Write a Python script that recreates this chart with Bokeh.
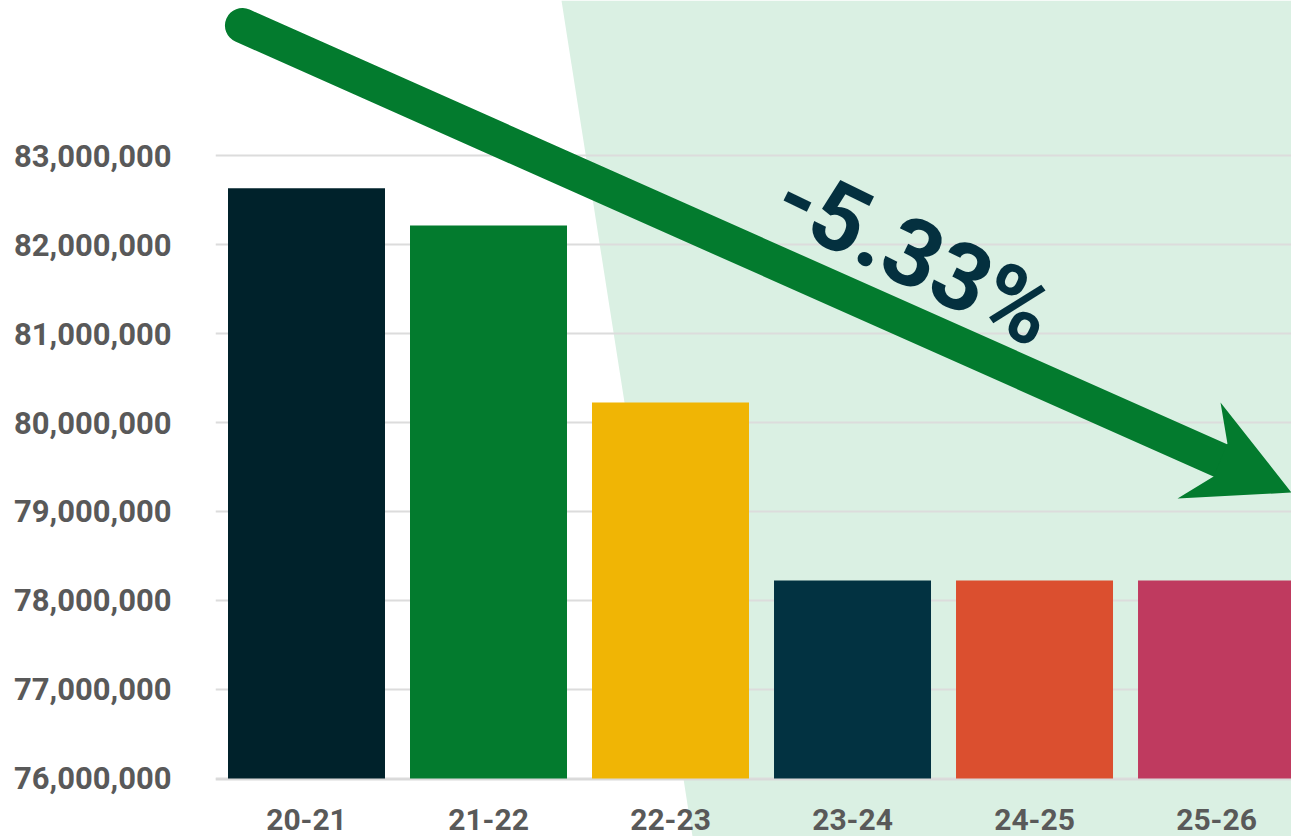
from bokeh.plotting import figure
from bokeh.models import (ColumnDataSource, Range1d, FixedTicker, NumeralTickFormatter,
                          PolyAnnotation, Label, Span)
from bokeh.core.properties import value
from bokeh.embed import file_html
from bokeh.resources import INLINE

# ---- data ----
seasons = ["20-21", "21-22", "22-23", "23-24", "24-25", "25-26"]
values = [82633000, 82213000, 80225000, 78225000, 78225000, 78225000]
colors = ["#00222B", "#037B2E", "#F0B505", "#023241", "#DB4F2F", "#BF3A5F"]
y_ticks = [76000000, 77000000, 78000000, 79000000, 80000000, 81000000, 82000000, 83000000]
change_label = "-5.33%"

FONT = "Roboto"
LABEL_GRAY = "#595959"
BASE = 76000000
Y_BOTTOM = 75348000   # frame extends below the baseline to hold the category labels
Y_TOP = 84742000
LABEL_Y = 75534000    # vertical centre of category labels

xs = [i + 0.5 for i in range(len(seasons))]
src = ColumnDataSource(dict(x=xs, top=values, color=colors, season=seasons,
                            ly=[LABEL_Y] * len(seasons)))

p = figure(width=1291, height=836, output_backend="svg", toolbar_location=None,
           x_range=Range1d(0, 5.912), y_range=Range1d(Y_BOTTOM, Y_TOP),
           min_border_left=215, min_border_right=0, min_border_top=0, min_border_bottom=0)
p.outline_line_color = None
p.background_fill_color = "white"
p.border_fill_color = "white"

# light green background wedge (decoration)
bg = PolyAnnotation(xs=[1.901, 7.0, 7.0, 2.621], ys=[84.742e6, 84.742e6, 75.348e6, 75.348e6],
                    fill_color="#DAF0E3", fill_alpha=1.0, line_color=None, level="image")
p.add_layout(bg)

# baseline
p.add_layout(Span(location=BASE - 12000, dimension="width", line_color="#D9D9D9",
                  line_width=2, level="underlay"))

p.vbar(x="x", top="top", bottom=BASE, width=0.8626, color="color", source=src,
       line_color=None)

# category labels
p.text(x="x", y="ly", text="season", source=src, text_font=value(FONT),
       text_font_style="bold", text_font_size="30px", text_color=LABEL_GRAY,
       text_align="center", text_baseline="middle")

# arrow (decoration)
p.line(x=[0.148, 5.522], y=[84.461e6, 79.573e6], line_width=35, line_color="#037B2E",
       line_cap="round")
p.patch(x=[5.522, 5.912, 5.286, 5.484, 5.560], y=[80.225e6, 79.213e6, 79.146e6, 79.393e6, 79.764e6],
        fill_color="#037B2E", line_color=None)

lab = Label(x=3.845, y=81.88e6, text=change_label, angle=-26, angle_units="deg",
            text_font=FONT, text_font_style="bold", text_font_size="94px",
            text_color="#04303F", text_align="center", text_baseline="middle")
p.add_layout(lab)

# axes
p.xaxis.visible = False
p.yaxis.ticker = FixedTicker(ticks=y_ticks)
p.yaxis.formatter = NumeralTickFormatter(format="0,0")
p.yaxis.major_tick_line_color = None
p.yaxis.minor_tick_line_color = None
p.yaxis.major_label_text_font = FONT
p.yaxis.major_label_text_font_style = "bold"
p.yaxis.major_label_text_color = LABEL_GRAY
p.yaxis.major_label_text_font_size = "31px"
p.yaxis.axis_line_color = None
p.yaxis.major_label_standoff = 38

p.xgrid.grid_line_color = None
p.ygrid.grid_line_color = "#DCDCDC"
p.ygrid.grid_line_width = 2

open("out.html", "w").write(file_html(p, INLINE))
